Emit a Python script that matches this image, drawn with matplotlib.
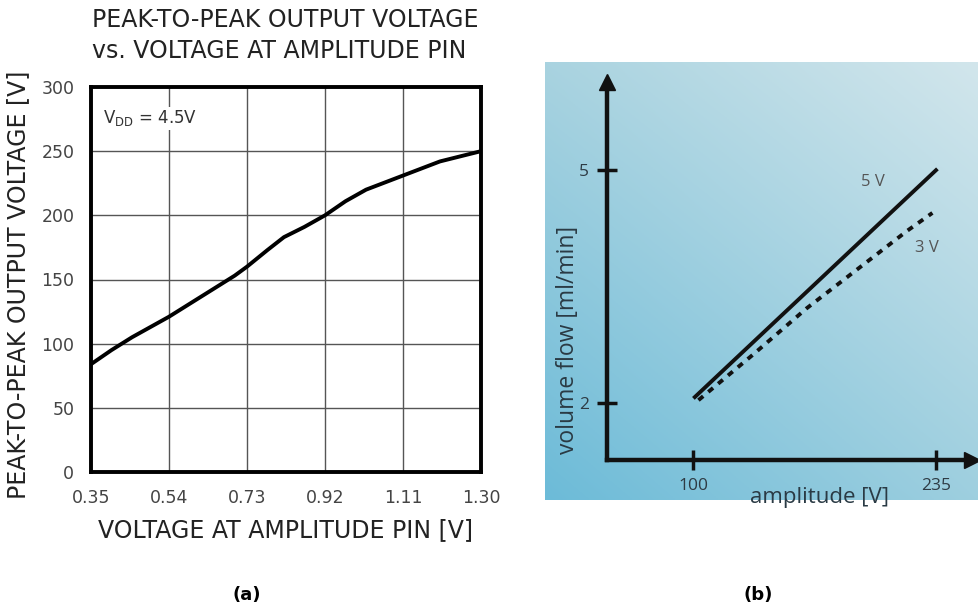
import numpy as np
import matplotlib
matplotlib.use("Agg")
import matplotlib.pyplot as plt
from matplotlib import font_manager

# ---------------- data ----------------
# Panel (a)
pin_voltage = [0.35, 0.40, 0.45, 0.54, 0.63, 0.70, 0.73, 0.78, 0.82, 0.87, 0.92, 0.97, 1.02, 1.11, 1.20, 1.30]
pp_output = [84, 95, 105, 121, 139, 153, 160, 173, 183, 191, 200, 211, 220, 231, 242, 250]
a_xticks = [0.35, 0.54, 0.73, 0.92, 1.11, 1.30]
a_xticklabels = ["0.35", "0.54", "0.73", "0.92", "1.11", "1.30"]
a_yticks = [0, 50, 100, 150, 200, 250, 300]

# Panel (b)
amp_5v = [101, 235]
flow_5v = [2.08, 5.0]
amp_3v = [103, 133, 163, 200, 219, 233]
flow_3v = [2.04, 2.62, 3.22, 3.88, 4.22, 4.45]
b_xticks = [100, 235]
b_yticks = [2, 5]

W, H = 979, 611
fig = plt.figure(figsize=(W / 100, H / 100), dpi=100)

def rect(x0, y0, x1, y1):
    return [x0 / W, 1 - y1 / H, (x1 - x0) / W, (y1 - y0) / H]

available = {f.name for f in font_manager.fontManager.ttflist}
narrow = [f for f in ['Liberation Sans Narrow', 'DejaVu Sans Condensed'] if f in available] + ['DejaVu Sans']

# ---------------- panel (a) ----------------
ax = fig.add_axes(rect(91, 87, 481, 472))
ax.plot(pin_voltage, pp_output, color='black', lw=2.8, solid_capstyle='butt')
ax.set_xlim(0.35, 1.30)
ax.set_ylim(0, 300)
ax.set_xticks(a_xticks)
ax.set_xticklabels(a_xticklabels)
ax.set_yticks(a_yticks)
ax.grid(True, color='#555555', lw=1.0)
ax.tick_params(length=0, pad=12, labelsize=12.5, labelcolor='#444444')
for lab in ax.get_xticklabels() + ax.get_yticklabels():
    lab.set_family(narrow)
for s in ax.spines.values():
    s.set_linewidth(2.8)
ax.set_xlabel("VOLTAGE AT AMPLITUDE PIN [V]", fontsize=17, color='#222222', labelpad=8)
ax.set_ylabel("PEAK-TO-PEAK OUTPUT VOLTAGE [V]", fontsize=17, color='#222222', labelpad=4)
ax.yaxis.set_label_coords(-(91 - 30) / (481 - 91), (472 - 285) / (472 - 87))
ax.text(0.03, 0.945, r"V$_{\mathregular{DD}}$ = 4.5V", transform=ax.transAxes,
        fontsize=12, color='#333333', family=narrow, va='top', ha='left',
        bbox=dict(facecolor='white', edgecolor='none', pad=1))
fig.text(92 / W, 1 - 8 / H, "PEAK-TO-PEAK OUTPUT VOLTAGE\nvs. VOLTAGE AT AMPLITUDE PIN",
         fontsize=17, color='#222222', ha='left', va='top', linespacing=1.35)
fig.text(247 / W, 1 - 595 / H, "(a)", fontsize=13, fontweight='bold', ha='center', va='center')

# ---------------- panel (b) ----------------
bg = fig.add_axes(rect(545, 62, 978, 500))
tl = np.array([0xa9, 0xd3, 0xe0]) / 255
tr = np.array([0xd2, 0xe6, 0xec]) / 255
bl = np.array([0x6c, 0xbb, 0xd8]) / 255
br = np.array([0x9e, 0xcf, 0xdf]) / 255
u = np.linspace(0, 1, 200)[None, :, None]
v = np.linspace(0, 1, 200)[:, None, None]
img = (1 - v) * ((1 - u) * tl + u * tr) + v * ((1 - u) * bl + u * br)
bg.imshow(img, aspect='auto', extent=[0, 1, 0, 1], origin='upper')
bg.set_axis_off()

bx = fig.add_axes(rect(607, 82, 972, 460))
bx.patch.set_alpha(0)
bx.set_xlim(52.2, 255)
bx.set_ylim(1.27, 6.135)
bx.plot(amp_5v, flow_5v, color='#111111', lw=2.8)
bx.plot(amp_3v, flow_3v, color='#111111', lw=2.8, ls=(0, (1.6, 1.7)))
for side in ['top', 'right']:
    bx.spines[side].set_visible(False)
for side in ['left', 'bottom']:
    bx.spines[side].set_linewidth(3.2)
    bx.spines[side].set_color('#111111')
    bx.spines[side].set_capstyle('projecting')
bx.set_xticks(b_xticks)
bx.set_yticks(b_yticks)
bx.tick_params(direction='inout', length=14, width=2.5, color='#111111',
               labelsize=12.5, labelcolor='#2e3b44', pad=6)
for lab in bx.get_xticklabels() + bx.get_yticklabels():
    lab.set_family('Open Sans')
bx.plot(1, 0, '>', color='#111111', ms=11, transform=bx.transAxes, clip_on=False)
bx.plot(0, 1, '^', color='#111111', ms=11, transform=bx.transAxes, clip_on=False)
bx.set_xlabel("amplitude [V]", fontsize=16, color='#2a3a44', family='Open Sans')
bx.xaxis.set_label_coords((820 - 607) / (972 - 607), -(487 - 460) / (460 - 82))
bx.set_ylabel("volume flow [ml/min]", fontsize=16.5, color='#2a3a44', family='Open Sans')
bx.yaxis.set_label_coords(-(607 - 580) / (972 - 607), (460 - 340) / (460 - 82))
bx.text(200, 4.85, "5 V", fontsize=12, color='#555555', family='Open Sans', ha='center', va='center')
bx.text(230, 4.0, "3 V", fontsize=12, color='#555555', family='Open Sans', ha='center', va='center')
fig.text(758 / W, 1 - 595 / H, "(b)", fontsize=13, fontweight='bold', ha='center', va='center')

fig.savefig("out.png", dpi=100)
